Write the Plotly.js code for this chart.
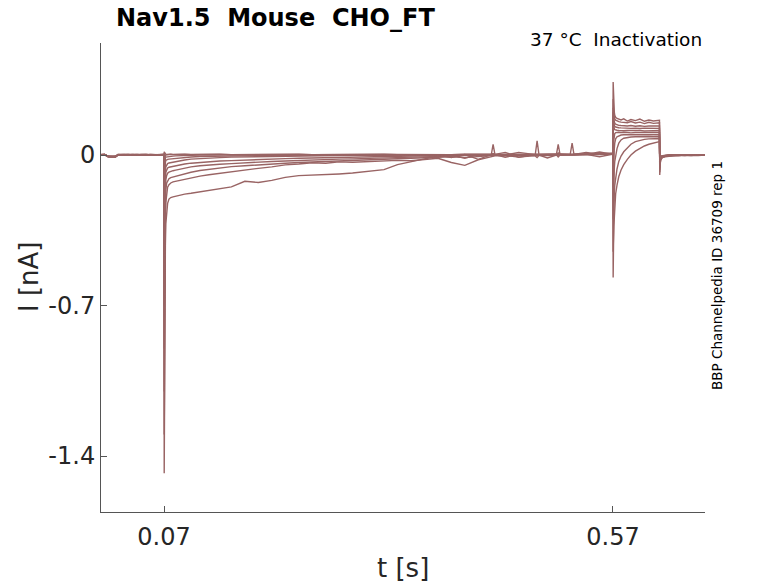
<!DOCTYPE html>
<html>
<head>
<meta charset="utf-8">
<script src="https://cdn.plot.ly/plotly-3.0.1.min.js"></script>
<style>
html,body{margin:0;padding:0;background:#fff;}
#chart{width:778px;height:583px;}
</style>
</head>
<body>
<div id="chart"></div>
<script>
// time points [s]
const t = [
  0, 0.004, 0.0078, 0.012, 0.016, 0.0188, 0.025, 0.03, 0.035, 0.04, 0.045, 0.05, 0.055, 0.06, 0.065, 0.0699,
  0.0702, 0.0706, 0.071, 0.0715, 0.072, 0.073, 0.074, 0.0755, 0.0775, 0.08, 0.083, 0.0878, 0.093, 0.1, 0.11,
  0.12, 0.132, 0.145, 0.16, 0.175, 0.19, 0.205, 0.22, 0.235, 0.25, 0.265, 0.28, 0.3, 0.315, 0.33, 0.345, 0.36, 0.375, 0.39, 0.405,
  0.42, 0.4345, 0.4365, 0.4385, 0.45, 0.465, 0.4835, 0.4855, 0.4875, 0.497, 0.507, 0.509, 0.511, 0.5225, 0.5245, 0.5265, 0.54, 0.555, 0.5699,
  0.5702, 0.5706, 0.571, 0.5715, 0.572, 0.573, 0.5745, 0.5765, 0.579, 0.582, 0.586, 0.59, 0.595, 0.6, 0.605, 0.61, 0.615, 0.6218,
  0.6221, 0.6225, 0.623, 0.625, 0.628, 0.632, 0.637, 0.643, 0.65, 0.657, 0.665, 0.672
];

// current sweeps [nA]
const sweepA = [
  0.002, 0.003, -0.006, -0.008, -0.007, 0.001, 0.002, 0.000, 0.003, 0.001, 0.002, -0.001, 0.002, 0.001, 0.003, 0.002,
  -1.48, -0.95, -0.62, -0.42, -0.32, -0.26, -0.225, -0.205, -0.198, -0.195, -0.192, -0.186, -0.182, -0.178, -0.172,
  -0.166, -0.158, -0.148, -0.122, -0.128, -0.118, -0.104, -0.096, -0.094, -0.091, -0.088, -0.084, -0.075, -0.068, -0.045, -0.03, -0.018, -0.006, -0.004, 0.002,
  -0.003, 0.002, 0.004, 0.001, 0.001, 0.003, 0.001, 0.002, 0.004, 0.004, 0.002, 0.003, 0.005, 0.003, 0.005, 0.002, 0.004, 0.006, 0.008,
  0.34, 0.26, 0.22, 0.2, 0.185, 0.175, 0.17, 0.166, 0.163, 0.168, 0.158, 0.165, 0.16, 0.167, 0.157, 0.163, 0.158, 0.161,
  -0.093, -0.05, -0.025, -0.012, -0.008, -0.005, -0.004, -0.002, -0.003, -0.001, -0.002, 0.0
];
const sweepB = [
  0.001, 0.002, -0.007, -0.009, -0.006, 0.002, 0.001, 0.003, 0.000, 0.002, 0.001, 0.003, 0.000, 0.002, 0.001, 0.003,
  -1.3, -0.78, -0.48, -0.3, -0.22, -0.17, -0.15, -0.138, -0.13, -0.125, -0.122, -0.118, -0.112, -0.106, -0.098,
  -0.092, -0.085, -0.078, -0.07, -0.062, -0.055, -0.046, -0.042, -0.036, -0.038, -0.032, -0.034, -0.03, -0.028, -0.025, -0.027, -0.02, -0.015, -0.035, -0.048,
  -0.022, -0.01, -0.006, -0.004, -0.002, -0.01, -0.002, 0.001, -0.001, -0.003, 0.0, 0.002, 0.001, 0.002, 0.0, 0.003, 0.003, 0.002, 0.006,
  0.26, 0.21, 0.19, 0.175, 0.168, 0.162, 0.158, 0.155, 0.153, 0.152, 0.15, 0.156, 0.149, 0.153, 0.146, 0.152, 0.147, 0.15,
  -0.08, -0.045, -0.022, -0.01, -0.006, -0.004, -0.002, -0.003, 0.0, -0.002, 0.001, -0.001
];
const sweepC = [
  0.003, 0.001, -0.005, -0.008, -0.008, 0.0, 0.003, 0.001, 0.002, 0.0, 0.003, 0.001, 0.002, 0.0, 0.002, 0.001,
  -1.1, -0.62, -0.36, -0.22, -0.16, -0.13, -0.118, -0.11, -0.105, -0.102, -0.1, -0.095, -0.088, -0.08, -0.072,
  -0.066, -0.06, -0.054, -0.05, -0.045, -0.042, -0.038, -0.035, -0.032, -0.03, -0.027, -0.025, -0.022, -0.02, -0.018, -0.016, -0.012, -0.01, -0.008, -0.012,
  -0.006, -0.002, -0.003, 0.0, 0.002, -0.002, 0.001, 0.003, 0.0, -0.014, 0.0, 0.002, 0.001, 0.002, 0.001, 0.003, 0.012, 0.004, 0.005,
  0.22, 0.18, 0.165, 0.155, 0.148, 0.143, 0.14, 0.138, 0.137, 0.136, 0.135, 0.137, 0.134, 0.136, 0.133, 0.135, 0.134, 0.135,
  -0.07, -0.04, -0.02, -0.009, -0.005, -0.003, -0.002, 0.0, -0.002, 0.001, -0.001, 0.0
];
const sweepD = [
  0.0, 0.002, -0.008, -0.007, -0.009, 0.001, 0.0, 0.002, 0.001, 0.003, 0.0, 0.002, 0.001, 0.003, 0.0, 0.002,
  -0.9, -0.48, -0.26, -0.16, -0.115, -0.095, -0.085, -0.08, -0.076, -0.073, -0.07, -0.066, -0.06, -0.055, -0.05,
  -0.046, -0.043, -0.04, -0.036, -0.034, -0.03, -0.028, -0.025, -0.023, -0.022, -0.019, -0.018, -0.016, -0.014, -0.012, -0.01, -0.009, -0.006, -0.004, -0.003,
  0.0, 0.001, 0.002, 0.003, 0.012, -0.01, 0.002, 0.0, 0.001, 0.003, 0.0, 0.001, 0.002, 0.001, 0.002, 0.0, 0.003, -0.008, 0.004,
  0.2, 0.16, 0.145, 0.138, 0.133, 0.13, 0.128, 0.127, 0.126, 0.125, 0.126, 0.124, 0.125, 0.123, 0.125, 0.124, 0.126, 0.124,
  -0.06, -0.035, -0.018, -0.008, -0.004, -0.003, -0.001, -0.002, 0.0, -0.001, 0.0, 0.001
];
const sweepE = [
  0.002, 0.0, -0.006, -0.009, -0.007, 0.002, 0.001, 0.0, 0.003, 0.001, 0.002, 0.0, 0.003, 0.001, 0.002, 0.0,
  -0.7, -0.35, -0.18, -0.11, -0.08, -0.066, -0.06, -0.057, -0.055, -0.053, -0.05, -0.046, -0.042, -0.038, -0.034,
  -0.031, -0.028, -0.026, -0.023, -0.021, -0.019, -0.017, -0.015, -0.014, -0.012, -0.011, -0.01, -0.008, -0.007, -0.006, -0.005, -0.003, -0.002, 0.0, -0.001,
  0.001, 0.002, 0.0, 0.001, 0.002, 0.001, -0.004, -0.012, -0.003, 0.002, 0.003, 0.01, 0.002, 0.001, 0.003, 0.002, 0.002, 0.004, 0.003,
  0.18, 0.14, 0.128, 0.122, 0.118, 0.116, 0.115, 0.114, 0.115, 0.113, 0.114, 0.115, 0.113, 0.114, 0.112, 0.114, 0.113, 0.114,
  -0.05, -0.03, -0.015, -0.007, -0.004, -0.002, -0.001, 0.0, -0.001, 0.0, 0.001, 0.0
];
const sweepF = [
  0.001, 0.003, -0.007, -0.008, -0.006, 0.0, 0.002, 0.001, 0.0, 0.002, 0.001, 0.003, 0.0, 0.001, 0.003, 0.001,
  -0.5, -0.24, -0.12, -0.075, -0.055, -0.045, -0.04, -0.037, -0.035, -0.033, -0.03, -0.027, -0.023, -0.019, -0.016,
  -0.014, -0.012, -0.01, -0.009, -0.008, -0.006, -0.005, -0.004, -0.003, -0.003, -0.002, -0.001, 0.0, -0.001, 0.001, 0.0, 0.002, 0.0, 0.001, -0.015,
  0.002, 0.0, 0.001, 0.002, 0.0, 0.012, 0.002, 0.001, 0.0, 0.0, 0.001, -0.009, 0.0, 0.002, 0.001, 0.003, 0.003, 0.014, 0.003,
  -0.05, 0.02, 0.07, 0.09, 0.1, 0.104, 0.105, 0.106, 0.104, 0.106, 0.105, 0.103, 0.105, 0.104, 0.106, 0.104, 0.105, 0.104,
  -0.04, -0.025, -0.013, -0.006, -0.003, -0.002, 0.0, -0.001, 0.0, 0.001, 0.0, 0.001
];
const sweepG = [
  0.002, 0.001, -0.008, -0.007, -0.008, 0.001, 0.003, 0.0, 0.002, 0.001, 0.0, 0.002, 0.001, 0.0, 0.002, 0.001,
  -0.3, -0.13, -0.06, -0.035, -0.025, -0.022, -0.02, -0.019, -0.018, -0.017, -0.015, -0.013, -0.011, -0.009, -0.007,
  -0.006, -0.005, -0.004, -0.003, -0.002, -0.002, -0.001, 0.0, 0.001, 0.0, 0.001, 0.0, 0.002, 0.001, 0.0, 0.002, 0.001, 0.0, 0.002, 0.001,
  0.0, 0.002, 0.05, 0.003, 0.002, 0.001, 0.002, 0.003, 0.001, 0.002, 0.003, 0.004, 0.002, 0.003, 0.002, 0.001, 0.003, 0.002, 0.004,
  -0.15, -0.06, -0.01, 0.03, 0.055, 0.075, 0.085, 0.09, 0.093, 0.094, 0.095, 0.094, 0.096, 0.095, 0.094, 0.096, 0.095, 0.094,
  -0.035, -0.02, -0.01, -0.005, -0.003, -0.001, 0.0, -0.001, 0.0, 0.001, 0.0, 0.0
];
const sweepH = [
  0.0, 0.002, -0.007, -0.009, -0.008, 0.002, 0.001, 0.002, 0.0, 0.001, 0.002, 0.0, 0.002, 0.001, 0.0, 0.002,
  -0.15, -0.06, -0.025, -0.014, -0.01, -0.009, -0.008, -0.007, -0.006, -0.005, -0.004, -0.003, -0.002, -0.001, 0.0,
  0.0, 0.001, 0.0, 0.002, 0.001, 0.0, 0.001, 0.002, 0.0, 0.001, 0.002, 0.0, 0.001, 0.002, 0.0, 0.001, 0.002, 0.001, -0.012, 0.002,
  -0.02, 0.002, 0.004, 0.001, 0.002, 0.001, 0.003, 0.066, 0.004, 0.003, 0.001, 0.002, 0.003, 0.002, 0.004, 0.002, 0.003, 0.002, 0.005,
  -0.3, -0.18, -0.11, -0.06, -0.03, 0.0, 0.03, 0.055, 0.07, 0.078, 0.082, 0.084, 0.085, 0.086, 0.085, 0.086, 0.085, 0.086,
  -0.03, -0.018, -0.009, -0.004, -0.002, -0.001, 0.0, -0.001, 0.001, 0.0, 0.0, 0.001
];
const sweepI = [
  0.003, 0.001, -0.006, -0.008, -0.007, 0.001, 0.002, 0.001, 0.003, 0.0, 0.001, 0.002, 0.0, 0.002, 0.001, 0.003,
  -0.05, -0.015, -0.005, -0.002, 0.0, 0.001, 0.002, 0.002, 0.003, 0.002, 0.003, 0.002, 0.003, 0.002, 0.003,
  0.002, 0.003, 0.001, 0.002, 0.003, 0.001, 0.002, 0.003, 0.001, 0.002, 0.003, 0.001, 0.002, 0.003, 0.002, 0.001, 0.003, 0.002, 0.001, 0.003,
  0.002, 0.003, 0.005, 0.002, -0.01, 0.002, 0.003, 0.004, 0.002, 0.003, 0.002, 0.05, 0.003, 0.002, 0.004, 0.003, 0.003, 0.005, 0.006,
  -0.45, -0.32, -0.24, -0.18, -0.14, -0.1, -0.065, -0.03, -0.005, 0.015, 0.035, 0.05, 0.062, 0.069, 0.073, 0.075, 0.076, 0.077,
  -0.025, -0.015, -0.008, -0.004, -0.002, 0.0, -0.001, 0.0, 0.001, 0.0, 0.001, 0.0
];
const sweepJ = [
  0.001, 0.002, -0.008, -0.009, -0.006, 0.0, 0.001, 0.003, 0.001, 0.002, 0.0, 0.001, 0.003, 0.001, 0.002, 0.0,
  0.015, 0.01, 0.006, 0.004, 0.003, 0.003, 0.004, 0.003, 0.004, 0.003, 0.004, 0.003, 0.004, 0.003, 0.004,
  0.003, 0.004, 0.002, 0.003, 0.004, 0.002, 0.003, 0.004, 0.002, 0.003, 0.004, 0.002, 0.003, 0.004, 0.003, 0.002, 0.004, 0.003, 0.002, 0.004,
  0.003, 0.004, 0.006, 0.003, 0.004, 0.003, 0.004, 0.005, 0.003, 0.004, 0.005, 0.006, 0.004, 0.005, 0.055, 0.004, 0.004, 0.006, 0.008,
  -0.57, -0.42, -0.33, -0.27, -0.23, -0.18, -0.14, -0.1, -0.07, -0.045, -0.02, 0.0, 0.018, 0.032, 0.042, 0.05, 0.056, 0.062,
  -0.02, -0.012, -0.006, -0.003, -0.001, 0.0, 0.001, 0.0, 0.0, 0.001, 0.0, 0.0
];

const sweeps = [sweepA, sweepB, sweepC, sweepD, sweepE, sweepF, sweepG, sweepH, sweepI, sweepJ];

const xTickVals = [0.07, 0.57];
const xTickText = ['0.07', '0.57'];
const yTickVals = [-1.4, -0.7, 0];
const yTickText = ['-1.4', '-0.7', '0'];

const titleText = 'Nav1.5\u00a0\u00a0Mouse\u00a0\u00a0CHO_FT';
const condText = '37 \u00b0C\u00a0\u00a0Inactivation';
const sideText = 'BBP Channelpedia ID 36709 rep 1';

const lineColor = '#996464';
const FONT = 'DejaVu Sans, Liberation Sans, sans-serif';

const traces = sweeps.map(s => ({
  type: 'scatter', mode: 'lines', x: t, y: s,
  line: {color: lineColor, width: 1.4},
  hoverinfo: 'skip', showlegend: false
}));

// plot area in pixels: left 101, right 705, top 43, bottom 512
const L = 101, R = 705, T = 43, B = 512;
const W = R - L, H = B - T;
const px = x => (x - L) / W;
const py = y => (B - y) / H;

const layout = {
  width: 778, height: 583,
  margin: {l: L, r: 778 - R, t: T, b: 583 - B, pad: 0},
  paper_bgcolor: '#fff', plot_bgcolor: '#fff',
  showlegend: false,
  font: {family: FONT, color: '#262626'},
  xaxis: {
    range: [-0.0002, 0.6725], showgrid: false, zeroline: false,
    showline: true, linecolor: '#555', linewidth: 1, mirror: false,
    ticks: 'inside', ticklen: 6, tickcolor: '#555', tickwidth: 1,
    tickvals: xTickVals, ticktext: xTickText,
    tickfont: {family: FONT, size: 24, color: '#262626'},
    ticklabelstandoff: 3
  },
  yaxis: {
    range: [-1.6605, 0.521], showgrid: false, zeroline: false,
    showline: true, linecolor: '#555', linewidth: 1, mirror: false,
    ticks: 'inside', ticklen: 6, tickcolor: '#555', tickwidth: 1,
    tickvals: yTickVals, ticktext: yTickText,
    tickfont: {family: FONT, size: 24, color: '#262626'},
    ticklabelstandoff: 0
  },
  annotations: [
    {text: '<b>' + titleText + '</b>', xref: 'paper', yref: 'paper', x: px(114), y: py(17.5),
     xanchor: 'left', yanchor: 'middle', showarrow: false,
     font: {family: FONT, size: 24, color: '#000'}},
    {text: condText, xref: 'paper', yref: 'paper', x: px(704), y: py(40),
     xanchor: 'right', yanchor: 'middle', showarrow: false,
     font: {family: FONT, size: 18.5, color: '#000'}},
    {text: sideText, xref: 'paper', yref: 'paper', x: px(717), y: py(276),
     xanchor: 'center', yanchor: 'middle', showarrow: false, textangle: -90,
     font: {family: FONT, size: 13.5, color: '#000'}},
    {text: 'I [nA]', xref: 'paper', yref: 'paper', x: px(29), y: py(277),
     xanchor: 'center', yanchor: 'middle', showarrow: false, textangle: -90,
     font: {family: FONT, size: 26, color: '#262626'}},
    {text: 't [s]', xref: 'paper', yref: 'paper', x: px(403), y: py(568),
     xanchor: 'center', yanchor: 'middle', showarrow: false,
     font: {family: FONT, size: 26, color: '#262626'}}
  ]
};

Plotly.newPlot('chart', traces, layout, {staticPlot: true, displayModeBar: false});
</script>
</body>
</html>
